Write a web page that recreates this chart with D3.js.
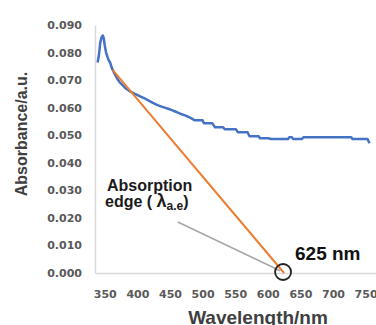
<!DOCTYPE html>
<html>
<head>
<meta charset="utf-8">
<script src="https://cdn.jsdelivr.net/npm/d3@7"></script>
<style>
  html, body { margin: 0; padding: 0; background: #fff; }
  svg { display: block; }
</style>
</head>
<body>
<div id="chart"></div>
<script>
// spectrum (nm, absorbance)
const wavelength = [339, 341, 343, 345, 347, 348.5, 350, 352, 354, 356, 358, 361, 364, 367, 370, 373,
  378, 382, 387, 391, 396, 401, 406, 411, 416, 421, 426, 431, 437, 442, 447, 453, 458, 463, 468, 473,
  478, 483, 488, 500, 502, 515, 519, 531, 534, 551, 554, 569, 572, 586, 588, 601, 605, 631, 633, 637,
  639, 652, 655, 728, 730, 753, 756];
const absorbance = [0.0764, 0.0790, 0.0835, 0.0855, 0.0862, 0.0851, 0.0825, 0.0800, 0.0785, 0.0772,
  0.0765, 0.0743, 0.0728, 0.0714, 0.0702, 0.0692, 0.0680, 0.0670, 0.0662, 0.0656, 0.0650, 0.0645,
  0.0639, 0.0634, 0.0627, 0.0621, 0.0615, 0.0609, 0.0604, 0.0600, 0.0596, 0.0591, 0.0586, 0.0581,
  0.0576, 0.0572, 0.0567, 0.0561, 0.0554, 0.0554, 0.0543, 0.0543, 0.0529, 0.0529, 0.0522, 0.0522,
  0.0511, 0.0511, 0.0496, 0.0496, 0.0489, 0.0489, 0.0486, 0.0486, 0.0493, 0.0493, 0.0486, 0.0486,
  0.0493, 0.0493, 0.0486, 0.0486, 0.0471];

// tangent used for the absorption edge
const tangentNm = [362, 625];
const tangentAbs = [0.0737, 0];

const edgeNm = 625;
const pointerNm = [462, 619];
const pointerAbs = [0.0185, 0.0008];

const xTicks = [350, 400, 450, 500, 550, 600, 650, 700, 750];
const yTicks = [0, 0.01, 0.02, 0.03, 0.04, 0.05, 0.06, 0.07, 0.08, 0.09];
const yTickLabels = ['0.000', '0.010', '0.020', '0.030', '0.040', '0.050', '0.060', '0.070', '0.080', '0.090'];

const width = 376, height = 325;

const svg = d3.select('#chart').append('svg')
  .attr('width', width)
  .attr('height', height);

const x = d3.scaleLinear().domain([335, 766]).range([95, 376]);
const y = d3.scaleLinear().domain([0, 0.09]).range([273, 25]);

const tickFont = 'DejaVu Sans, Verdana, sans-serif';
const titleFont = 'Liberation Sans, Arial, sans-serif';

const xAxis = svg.append('g')
  .attr('transform', 'translate(0,273)')
  .call(d3.axisBottom(x).tickValues(xTicks).tickSize(0).tickPadding(17));

const yAxis = svg.append('g')
  .attr('transform', 'translate(95,0)')
  .call(d3.axisLeft(y).tickValues(yTicks).tickSize(0).tickPadding(13)
    .tickFormat((d, i) => yTickLabels[i]));

[xAxis, yAxis].forEach(a => {
  a.select('.domain').attr('stroke', '#d9d9d9').attr('stroke-width', 1.5);
  a.selectAll('text')
    .attr('fill', '#595959')
    .style('font-family', tickFont)
    .style('font-size', '11px')
    .style('font-weight', 'bold');
});

const line = d3.line()
  .x((d, i) => x(wavelength[i]))
  .y((d, i) => y(absorbance[i]));

svg.append('path')
  .attr('fill', 'none')
  .attr('stroke', '#4472c4')
  .attr('stroke-width', 2.5)
  .attr('stroke-linejoin', 'round')
  .attr('d', line(wavelength));

svg.append('line')
  .attr('x1', x(tangentNm[0])).attr('y1', y(tangentAbs[0]))
  .attr('x2', x(tangentNm[1])).attr('y2', y(tangentAbs[1]))
  .attr('stroke', '#ed7d31')
  .attr('stroke-width', 2);

svg.append('line')
  .attr('x1', x(pointerNm[0])).attr('y1', y(pointerAbs[0]))
  .attr('x2', x(pointerNm[1])).attr('y2', y(pointerAbs[1]))
  .attr('stroke', '#a6a6a6')
  .attr('stroke-width', 1.5);

svg.append('circle')
  .attr('cx', x(edgeNm) - 1)
  .attr('cy', y(0) - 1)
  .attr('r', 8)
  .attr('fill', 'none')
  .attr('stroke', '#222')
  .attr('stroke-width', 1.8);

// annotation text
svg.append('text')
  .attr('x', 107).attr('y', 191)
  .attr('fill', '#1a1a1a')
  .style('font-family', titleFont)
  .style('font-size', '16px')
  .style('font-weight', 'bold')
  .text('Absorption');

const edge = svg.append('text')
  .attr('x', 105).attr('y', 207)
  .attr('fill', '#1a1a1a')
  .style('font-family', titleFont)
  .style('font-size', '16px')
  .style('font-weight', 'bold');
edge.append('tspan').text('edge ( ');
edge.append('tspan').style('font-size', '18px').text('λ');
edge.append('tspan').attr('dy', 3).style('font-size', '12px').text('a.e');
edge.append('tspan').attr('dy', -3).text(')');

svg.append('text')
  .attr('x', 295).attr('y', 260)
  .attr('fill', '#111')
  .style('font-family', titleFont)
  .style('font-size', '19px')
  .style('font-weight', 'bold')
  .text(edgeNm + ' nm');

// axis titles
svg.append('text')
  .attr('transform', 'translate(27,134) rotate(-90)')
  .attr('text-anchor', 'middle')
  .attr('fill', '#404040')
  .style('font-family', titleFont)
  .style('font-size', '16px')
  .style('font-weight', 'bold')
  .text('Absorbance/a.u.');

svg.append('text')
  .attr('x', 258).attr('y', 324)
  .attr('text-anchor', 'middle')
  .attr('fill', '#404040')
  .style('font-family', titleFont)
  .style('font-size', '19px')
  .style('font-weight', 'bold')
  .text('Wavelength/nm');
</script>
</body>
</html>
